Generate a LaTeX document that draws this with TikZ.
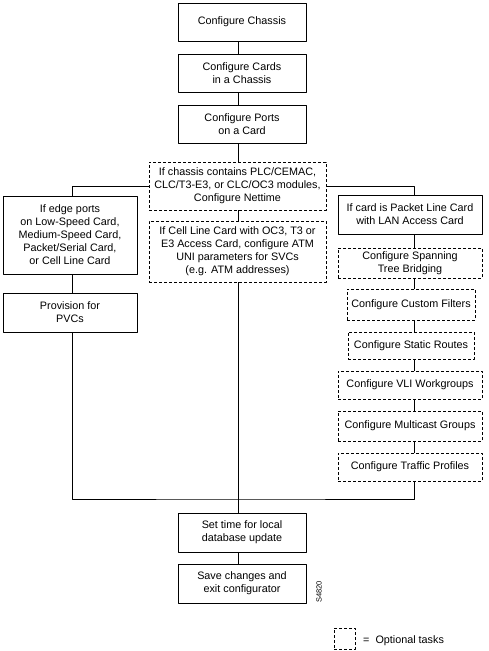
\documentclass[tikz,border=0pt]{standalone}
\usepackage{fontspec}
\setmainfont{Liberation Sans}
\usepackage{tikz}
\usetikzlibrary{calc}

\begin{document}
\begin{tikzpicture}[line cap=round,line join=round,x=1pt,y=-1pt,
  font=\fontsize{10.8}{13}\selectfont,
  task/.style={draw,line width=0.8pt,align=center,inner sep=0pt},
  optional/.style={task,line cap=butt,dash pattern=on 3pt off 2pt}]
\useasboundingbox (0,0) rectangle (488,651);
% spines of the three columns
\coordinate (spine) at (238,0);
\coordinate (lspine) at (72,0);
\coordinate (rspine) at (414,0);
\coordinate (join) at (238,499);
% middle column
\node[task,minimum width=128pt,minimum height=38pt] (chassis) at (242,22) {Configure Chassis};
\node[task,minimum width=128pt,minimum height=38pt] (cards) at (242,73) {Configure Cards\\in a Chassis};
\node[task,minimum width=128pt,minimum height=38pt] (ports) at (242,124) {Configure Ports\\on a Card};
\node[optional,minimum width=177pt,minimum height=48pt] (nettime) at (237.5,186) {If chassis contains PLC/CEMAC,\\CLC/T3-E3, or CLC/OC3 modules,\\Configure Nettime};
\node[optional,minimum width=177pt,minimum height=61pt] (cellline) at (237.5,251.5) {If Cell Line Card with OC3, T3 or\\E3 Access Card, configure ATM\\UNI parameters for SVCs\\(e.g. ATM addresses)};
\node[task,minimum width=128pt,minimum height=39pt] (settime) at (242,532.5) {Set time for local\\database update};
\node[task,minimum width=128pt,minimum height=39pt] (save) at (242,583.5) {Save changes and\\exit configurator};
\node[rotate=90,font=\fontsize{7.5}{8}\selectfont,inner sep=0pt] (fignum) at (319,592) {S4820};
% left column
\node[task,minimum width=134pt,minimum height=78pt] (edge) at (70,235) {If edge ports\\on Low-Speed Card,\\Medium-Speed Card,\\Packet/Serial Card,\\or Cell Line Card};
\node[task,minimum width=134pt,minimum height=39pt] (pvc) at (70,312.5) {Provision for\\PVCs};
% right column
\node[task,minimum width=144pt,minimum height=39pt] (lan) at (410,214.5) {If card is Packet Line Card\\with LAN Access Card};
\node[optional,minimum width=144pt,minimum height=30pt] (spanning) at (410,263) {Configure Spanning\\Tree Bridging};
\node[optional,minimum width=128pt,minimum height=31pt] (filters) at (411,304.5) {Configure Custom Filters};
\node[optional,minimum width=126pt,minimum height=27pt] (static) at (411,345.5) {Configure Static Routes};
\node[optional,minimum width=144pt,minimum height=28pt] (vli) at (410,385) {Configure VLI Workgroups};
\node[optional,minimum width=144pt,minimum height=30pt] (multicast) at (410,426) {Configure Multicast Groups};
\node[optional,minimum width=144pt,minimum height=28pt] (traffic) at (410,467) {Configure Traffic Profiles};
% legend
\node[optional,minimum width=21pt,minimum height=21pt] (legbox) at (344.5,638.5) {};
\node[anchor=west,inner sep=0pt] (legtext) at (363,641) {=\ \ Optional tasks};
% connectors
\draw[line width=0.8pt] (chassis.south -| spine) -- (cards.north -| spine);
\draw[line width=0.8pt] (cards.south -| spine) -- (ports.north -| spine);
\draw[line width=0.8pt] (ports.south -| spine) -- (nettime.north -| spine);
\draw[line width=0.8pt] (nettime.south -| spine) -- (cellline.north -| spine);
\draw[line width=0.8pt] (cellline.south -| spine) -- (settime.north -| spine);
\draw[line width=0.8pt] (settime.south -| spine) -- (save.north -| spine);
\draw[line width=0.8pt] (nettime.west) -| (edge.north -| lspine);
\draw[line width=0.8pt] (nettime.east) -| (lan.north -| rspine);
\draw[line width=0.8pt] (edge.south -| lspine) -- (pvc.north -| lspine);
\draw[line width=0.8pt] (pvc.south -| lspine) |- (join) -| (traffic.south -| rspine);
\draw[line width=0.8pt] (lan.south -| rspine) -- (spanning.north -| rspine);
\draw[line width=0.8pt] (spanning.south -| rspine) -- (filters.north -| rspine);
\draw[line width=0.8pt] (filters.south -| rspine) -- (static.north -| rspine);
\draw[line width=0.8pt] (static.south -| rspine) -- (vli.north -| rspine);
\draw[line width=0.8pt] (vli.south -| rspine) -- (multicast.north -| rspine);
\draw[line width=0.8pt] (multicast.south -| rspine) -- (traffic.north -| rspine);
\end{tikzpicture}
\end{document}
